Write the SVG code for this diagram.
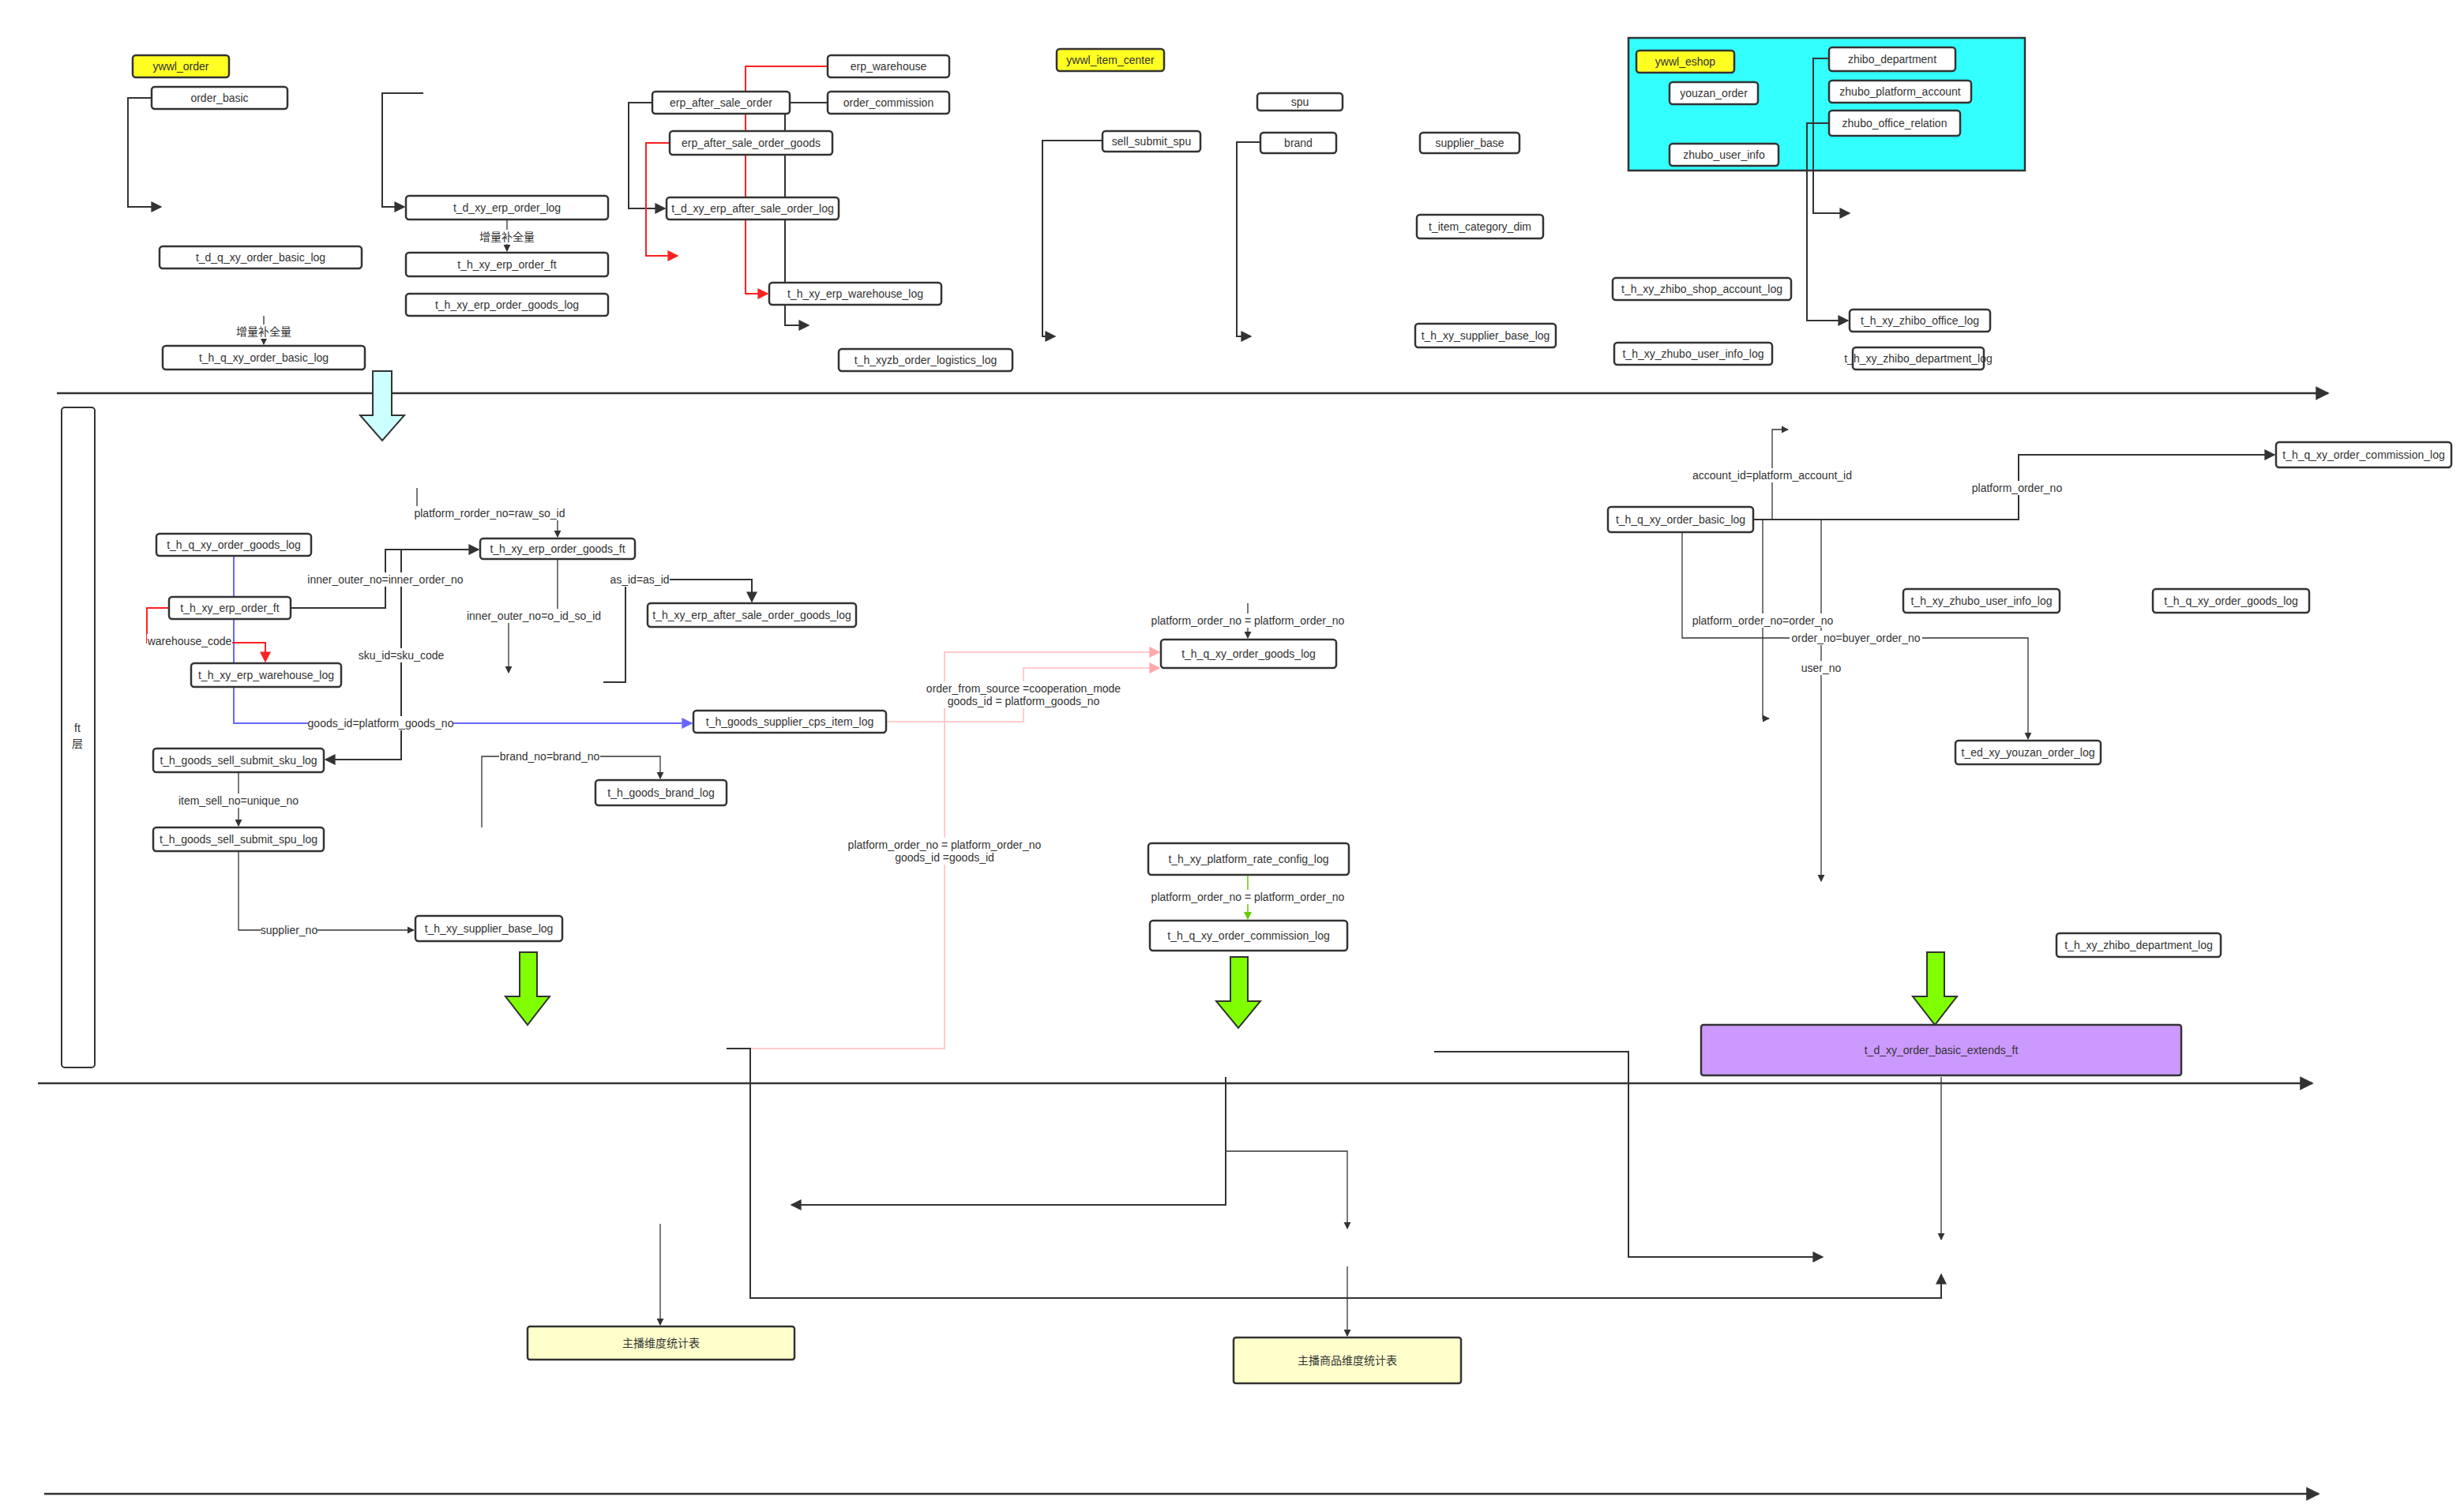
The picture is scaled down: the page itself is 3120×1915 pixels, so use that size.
<svg xmlns="http://www.w3.org/2000/svg" width="3120" height="1915" viewBox="0 0 3120 1915">
<style>
.n rect{fill:#fff;stroke:#333;stroke-width:2.5}
.y rect{fill:#ffff22}
text{font-family:"Liberation Sans","Noto Sans CJK SC",sans-serif;font-size:14px;fill:#333;text-anchor:middle;dominant-baseline:central}
.c path{fill:none;stroke:#333;stroke-width:2}
.c .t{stroke-width:1.3}
.c .r{stroke:#ff2020;stroke-width:2}
.c .b{stroke:#6666ff;stroke-width:2}
.c .p{stroke:#ffcccc;stroke-width:2}
.c .g{stroke:#66cc00;stroke-width:1.5}
.lb{fill:#fff}
</style>
<defs>
<marker id="a" viewBox="0 0 10 10" refX="9" refY="5" markerWidth="7" markerHeight="7" orient="auto"><path d="M0,0L10,5L0,10z" fill="#333"/></marker>
<marker id="ar" viewBox="0 0 10 10" refX="9" refY="5" markerWidth="7" markerHeight="7" orient="auto"><path d="M0,0L10,5L0,10z" fill="#ff2020"/></marker>
<marker id="ab" viewBox="0 0 10 10" refX="9" refY="5" markerWidth="7" markerHeight="7" orient="auto"><path d="M0,0L10,5L0,10z" fill="#6666ff"/></marker>
<marker id="ap" viewBox="0 0 10 10" refX="9" refY="5" markerWidth="7" markerHeight="7" orient="auto"><path d="M0,0L10,5L0,10z" fill="#ffaaaa"/></marker>
<marker id="ag" viewBox="0 0 10 10" refX="9" refY="5" markerWidth="7" markerHeight="7" orient="auto"><path d="M0,0L10,5L0,10z" fill="#66cc00"/></marker>
</defs>
<rect width="3120" height="1915" fill="#fff"/>

<!-- containers -->
<rect x="2062" y="48" width="502" height="168" fill="#33ffff" stroke="#333" stroke-width="2.5"/>
<g id="ft_layer"><rect x="78" y="516" width="42" height="836" rx="4" fill="#fff" stroke="#333" stroke-width="2"/><text x="98" y="922">ft</text><text x="98" y="942">层</text></g>

<!-- axes & big arrows -->
<g class="c">
<path d="M72,498H2948" stroke-width="2.5" marker-end="url(#a)" style="stroke:#333;stroke-width:2.5"/>
<path d="M48,1372H2928" marker-end="url(#a)" style="stroke-width:2.5"/>
<path d="M56,1892H2936" marker-end="url(#a)" style="stroke-width:2.5"/>
</g>
<path d="M472,470H496V526H512L484,558L456,526H472Z" fill="#ccffff" stroke="#333" stroke-width="2"/>
<path d="M658,1206H680V1262H696L668,1298L640,1262H658Z" fill="#80ff00" stroke="#333" stroke-width="2"/>
<path d="M1558,1212H1580V1268H1596L1568,1302L1540,1268H1558Z" fill="#80ff00" stroke="#333" stroke-width="2"/>
<path d="M2440,1206H2462V1262H2478L2450,1298L2422,1262H2440Z" fill="#80ff00" stroke="#333" stroke-width="2"/>

<!-- connectors -->
<g class="c" id="connectors">
<path d="M192,124H162V262H204" marker-end="url(#a)"/>
<path class="t" d="M334,400V436" marker-end="url(#a)"/>
<path d="M536,118H484V262H512" marker-end="url(#a)"/>
<path class="t" d="M642,278V318" marker-end="url(#a)"/>
<path d="M826,130H796V264H842" marker-end="url(#a)"/>
<path d="M1048,130H994V412H1024" marker-end="url(#a)"/>
<path class="r" d="M1048,84H944V372H972" marker-end="url(#ar)"/>
<path class="r" d="M848,181H818V324H858" marker-end="url(#ar)"/>
<path d="M1396,178H1320V426H1336" marker-end="url(#a)"/>
<path d="M1596,180H1566V426H1584" marker-end="url(#a)"/>
<path d="M2316,74H2296V270H2342" marker-end="url(#a)"/>
<path d="M2316,156H2288V406H2340" marker-end="url(#a)"/>

<path class="t" d="M528,618V650H706V680" marker-end="url(#a)"/>
<path d="M368,770H488V696H606" marker-end="url(#a)"/>
<path d="M508,696V962H412" marker-end="url(#a)"/>
<path d="M706,708V780H644V852" class="t" marker-end="url(#a)"/>
<path d="M764,864H792V734H952V762" marker-end="url(#a)"/>
<path class="b" d="M296,704V916H876" marker-end="url(#ab)"/>
<path class="r" d="M214,770H186V814H336V838" marker-end="url(#ar)"/>
<path class="t" d="M302,978V1046" marker-end="url(#a)"/>
<path class="t" d="M302,1078V1178H524" marker-end="url(#a)"/>
<path class="t" d="M610,1048V958H836V986" marker-end="url(#a)"/>
<path class="p" d="M1122,914H1296V846H1468" marker-end="url(#ap)"/>
<path class="p" d="M950,1328H1196V826H1468" marker-end="url(#ap)"/>
<path d="M920,1328H950V1644H2458V1614" marker-end="url(#a)"/>
<path class="t" d="M1580,764V808" marker-end="url(#a)"/>
<path class="g" d="M1580,1108V1164" marker-end="url(#ag)"/>

<path d="M2220,658H2556V576H2880" marker-end="url(#a)"/>
<path class="t" d="M2244,658V544H2264" marker-end="url(#a)"/>
<path d="M2130,674V808H2568V936" class="t" marker-end="url(#a)"/>
<path class="t" d="M2232,658V910H2240" marker-end="url(#a)"/>
<path class="t" d="M2306,658V1116" marker-end="url(#a)"/>

<path d="M1816,1332H2062V1592H2308" marker-end="url(#a)"/>
<path class="t" d="M2458,1364V1570" marker-end="url(#a)"/>
<path d="M1552,1364V1526H1002" marker-end="url(#a)"/>
<path d="M1552,1458H1706V1556" class="t" marker-end="url(#a)"/>
<path class="t" d="M1706,1604V1692" marker-end="url(#a)"/>
<path class="t" d="M836,1550V1678" marker-end="url(#a)"/>

<!-- labels -->
<rect class="lb" x="294" y="411" width="80" height="18"/><text x="334" y="420">增量补全量</text>
<rect class="lb" x="602" y="291" width="80" height="18"/><text x="642" y="300">增量补全量</text>
<rect class="lb" x="522" y="641" width="196" height="18"/><text x="620" y="650">platform_rorder_no=raw_so_id</text>
<rect class="lb" x="390" y="725" width="196" height="18"/><text x="488" y="734">inner_outer_no=inner_order_no</text>
<rect class="lb" x="454" y="821" width="108" height="18"/><text x="508" y="830">sku_id=sku_code</text>
<rect class="lb" x="592" y="771" width="168" height="18"/><text x="676" y="780">inner_outer_no=o_id_so_id</text>
<rect class="lb" x="772" y="725" width="76" height="18"/><text x="810" y="734">as_id=as_id</text>
<rect class="lb" x="390" y="907" width="184" height="18"/><text x="482" y="916">goods_id=platform_goods_no</text>
<rect class="lb" x="186" y="803" width="108" height="18"/><text x="240" y="812">warehouse_code</text>
<rect class="lb" x="236" y="1005" width="132" height="18"/><text x="302" y="1014">item_sell_no=unique_no</text>
<rect class="lb" x="330" y="1169" width="72" height="18"/><text x="366" y="1178">supplier_no</text>
<rect class="lb" x="632" y="949" width="128" height="18"/><text x="696" y="958">brand_no=brand_no</text>
<rect class="lb" x="1170" y="863" width="252" height="34"/><text x="1296" y="872">order_from_source =cooperation_mode</text><text x="1296" y="888">goods_id = platform_goods_no</text>
<rect class="lb" x="1064" y="1061" width="264" height="34"/><text x="1196" y="1070">platform_order_no = platform_order_no</text><text x="1196" y="1086">goods_id =goods_id</text>
<rect class="lb" x="1452" y="777" width="256" height="18"/><text x="1580" y="786">platform_order_no = platform_order_no</text>
<rect class="lb" x="1452" y="1127" width="256" height="18"/><text x="1580" y="1136">platform_order_no = platform_order_no</text>
<rect class="lb" x="2496" y="609" width="116" height="18"/><text x="2554" y="618">platform_order_no</text>
<rect class="lb" x="2138" y="593" width="212" height="18"/><text x="2244" y="602">account_id=platform_account_id</text>
<rect class="lb" x="2138" y="777" width="188" height="18"/><text x="2232" y="786">platform_order_no=order_no</text>
<rect class="lb" x="2266" y="799" width="168" height="18"/><text x="2350" y="808">order_no=buyer_order_no</text>
<rect class="lb" x="2282" y="837" width="48" height="18"/><text x="2306" y="846">user_no</text>
</g>

<!-- nodes -->
<g id="ywwl_order" class="n y"><rect x="168" y="70" width="122" height="28" rx="4"/><text x="229" y="84">ywwl_order</text></g>
<g id="order_basic" class="n"><rect x="192" y="110" width="172" height="28" rx="4"/><text x="278" y="124">order_basic</text></g>
<g id="t_d_q_xy_order_basic_log" class="n"><rect x="202" y="312" width="256" height="28" rx="4"/><text x="330" y="326">t_d_q_xy_order_basic_log</text></g>
<g id="t_h_q_xy_order_basic_log" class="n"><rect x="206" y="438" width="256" height="30" rx="4"/><text x="334" y="453">t_h_q_xy_order_basic_log</text></g>
<g id="t_d_xy_erp_order_log" class="n"><rect x="514" y="248" width="256" height="30" rx="4"/><text x="642" y="263">t_d_xy_erp_order_log</text></g>
<g id="t_h_xy_erp_order_ft" class="n"><rect x="514" y="320" width="256" height="30" rx="4"/><text x="642" y="335">t_h_xy_erp_order_ft</text></g>
<g id="t_h_xy_erp_order_goods_log" class="n"><rect x="514" y="372" width="256" height="28" rx="4"/><text x="642" y="386">t_h_xy_erp_order_goods_log</text></g>
<g id="erp_after_sale_order" class="n"><rect x="826" y="116" width="174" height="28" rx="4"/><text x="913" y="130">erp_after_sale_order</text></g>
<g id="erp_warehouse" class="n"><rect x="1048" y="70" width="154" height="28" rx="4"/><text x="1125" y="84">erp_warehouse</text></g>
<g id="order_commission" class="n"><rect x="1048" y="116" width="154" height="28" rx="4"/><text x="1125" y="130">order_commission</text></g>
<g id="erp_after_sale_order_goods" class="n"><rect x="848" y="166" width="206" height="30" rx="4"/><text x="951" y="181">erp_after_sale_order_goods</text></g>
<g id="t_d_xy_erp_after_sale_order_log" class="n"><rect x="844" y="250" width="218" height="28" rx="4"/><text x="953" y="264">t_d_xy_erp_after_sale_order_log</text></g>
<g id="t_h_xy_erp_warehouse_log_top" class="n"><rect x="974" y="358" width="218" height="28" rx="4"/><text x="1083" y="372">t_h_xy_erp_warehouse_log</text></g>
<g id="t_h_xyzb_order_logistics_log" class="n"><rect x="1062" y="442" width="220" height="28" rx="4"/><text x="1172" y="456">t_h_xyzb_order_logistics_log</text></g>
<g id="ywwl_item_center" class="n y"><rect x="1338" y="62" width="136" height="28" rx="4"/><text x="1406" y="76">ywwl_item_center</text></g>
<g id="spu" class="n"><rect x="1592" y="118" width="108" height="22" rx="4"/><text x="1646" y="129">spu</text></g>
<g id="sell_submit_spu" class="n"><rect x="1396" y="166" width="124" height="26" rx="4"/><text x="1458" y="179">sell_submit_spu</text></g>
<g id="brand" class="n"><rect x="1596" y="168" width="96" height="26" rx="4"/><text x="1644" y="181">brand</text></g>
<g id="supplier_base" class="n"><rect x="1798" y="168" width="126" height="26" rx="4"/><text x="1861" y="181">supplier_base</text></g>
<g id="t_item_category_dim" class="n"><rect x="1794" y="272" width="160" height="30" rx="4"/><text x="1874" y="287">t_item_category_dim</text></g>
<g id="t_h_xy_supplier_base_log_top" class="n"><rect x="1792" y="410" width="178" height="30" rx="4"/><text x="1881" y="425">t_h_xy_supplier_base_log</text></g>
<g id="ywwl_eshop" class="n y"><rect x="2072" y="64" width="124" height="28" rx="4"/><text x="2134" y="78">ywwl_eshop</text></g>
<g id="youzan_order" class="n"><rect x="2114" y="104" width="112" height="28" rx="4"/><text x="2170" y="118">youzan_order</text></g>
<g id="zhibo_department" class="n"><rect x="2316" y="60" width="160" height="30" rx="4"/><text x="2396" y="75">zhibo_department</text></g>
<g id="zhubo_platform_account" class="n"><rect x="2316" y="102" width="180" height="28" rx="4"/><text x="2406" y="116">zhubo_platform_account</text></g>
<g id="zhubo_office_relation" class="n"><rect x="2316" y="140" width="166" height="32" rx="4"/><text x="2399" y="156">zhubo_office_relation</text></g>
<g id="zhubo_user_info" class="n"><rect x="2114" y="182" width="138" height="28" rx="4"/><text x="2183" y="196">zhubo_user_info</text></g>
<g id="t_h_xy_zhibo_shop_account_log" class="n"><rect x="2042" y="352" width="226" height="28" rx="4"/><text x="2155" y="366">t_h_xy_zhibo_shop_account_log</text></g>
<g id="t_h_xy_zhibo_office_log" class="n"><rect x="2342" y="392" width="178" height="28" rx="4"/><text x="2431" y="406">t_h_xy_zhibo_office_log</text></g>
<g id="t_h_xy_zhubo_user_info_log_top" class="n"><rect x="2044" y="434" width="200" height="28" rx="4"/><text x="2144" y="448">t_h_xy_zhubo_user_info_log</text></g>
<g id="t_h_xy_zhibo_department_log_top" class="n"><rect x="2346" y="440" width="166" height="28" rx="4"/><text x="2429" y="454">t_h_xy_zhibo_department_log</text></g>

<g id="t_h_q_xy_order_goods_log_l" class="n"><rect x="198" y="676" width="196" height="28" rx="4"/><text x="296" y="690">t_h_q_xy_order_goods_log</text></g>
<g id="t_h_xy_erp_order_ft_m" class="n"><rect x="214" y="756" width="154" height="28" rx="4"/><text x="291" y="770">t_h_xy_erp_order_ft</text></g>
<g id="t_h_xy_erp_warehouse_log_m" class="n"><rect x="242" y="840" width="190" height="30" rx="4"/><text x="337" y="855">t_h_xy_erp_warehouse_log</text></g>
<g id="t_h_xy_erp_order_goods_ft" class="n"><rect x="608" y="682" width="196" height="26" rx="4"/><text x="706" y="695">t_h_xy_erp_order_goods_ft</text></g>
<g id="t_h_xy_erp_after_sale_order_goods_log" class="n"><rect x="820" y="764" width="264" height="30" rx="4"/><text x="952" y="779">t_h_xy_erp_after_sale_order_goods_log</text></g>
<g id="t_h_goods_supplier_cps_item_log" class="n"><rect x="878" y="900" width="244" height="28" rx="4"/><text x="1000" y="914">t_h_goods_supplier_cps_item_log</text></g>
<g id="t_h_goods_sell_submit_sku_log" class="n"><rect x="194" y="948" width="216" height="30" rx="4"/><text x="302" y="963">t_h_goods_sell_submit_sku_log</text></g>
<g id="t_h_goods_sell_submit_spu_log" class="n"><rect x="194" y="1048" width="216" height="30" rx="4"/><text x="302" y="1063">t_h_goods_sell_submit_spu_log</text></g>
<g id="t_h_goods_brand_log" class="n"><rect x="754" y="988" width="166" height="32" rx="4"/><text x="837" y="1004">t_h_goods_brand_log</text></g>
<g id="t_h_xy_supplier_base_log_m" class="n"><rect x="526" y="1160" width="186" height="32" rx="4"/><text x="619" y="1176">t_h_xy_supplier_base_log</text></g>
<g id="t_h_q_xy_order_goods_log_c" class="n"><rect x="1470" y="810" width="222" height="36" rx="4"/><text x="1581" y="828">t_h_q_xy_order_goods_log</text></g>
<g id="t_h_xy_platform_rate_config_log" class="n"><rect x="1454" y="1068" width="254" height="40" rx="4"/><text x="1581" y="1088">t_h_xy_platform_rate_config_log</text></g>
<g id="t_h_q_xy_order_commission_log_c" class="n"><rect x="1456" y="1166" width="250" height="38" rx="4"/><text x="1581" y="1185">t_h_q_xy_order_commission_log</text></g>
<g id="t_h_q_xy_order_basic_log_r" class="n"><rect x="2036" y="642" width="184" height="32" rx="4"/><text x="2128" y="658">t_h_q_xy_order_basic_log</text></g>
<g id="t_h_q_xy_order_commission_log_r" class="n"><rect x="2882" y="560" width="222" height="32" rx="4"/><text x="2993" y="576">t_h_q_xy_order_commission_log</text></g>
<g id="t_ed_xy_youzan_order_log" class="n"><rect x="2476" y="938" width="184" height="30" rx="4"/><text x="2568" y="953">t_ed_xy_youzan_order_log</text></g>
<g id="t_h_xy_zhubo_user_info_log_r" class="n"><rect x="2410" y="746" width="198" height="30" rx="4"/><text x="2509" y="761">t_h_xy_zhubo_user_info_log</text></g>
<g id="t_h_q_xy_order_goods_log_r" class="n"><rect x="2726" y="746" width="198" height="30" rx="4"/><text x="2825" y="761">t_h_q_xy_order_goods_log</text></g>
<g id="t_h_xy_zhibo_department_log_r" class="n"><rect x="2604" y="1182" width="208" height="30" rx="4"/><text x="2708" y="1197">t_h_xy_zhibo_department_log</text></g>
<g id="t_d_xy_order_basic_extends_ft" class="n"><rect x="2154" y="1298" width="608" height="64" rx="3" style="fill:#cc99ff"/><text x="2458" y="1330">t_d_xy_order_basic_extends_ft</text></g>
<g id="anchor_stats" class="n"><rect x="668" y="1680" width="338" height="42" rx="3" style="fill:#ffffcc"/><text x="837" y="1701">主播维度统计表</text></g>
<g id="anchor_goods_stats" class="n"><rect x="1562" y="1694" width="288" height="58" rx="3" style="fill:#ffffcc"/><text x="1706" y="1723">主播商品维度统计表</text></g>
</svg>
